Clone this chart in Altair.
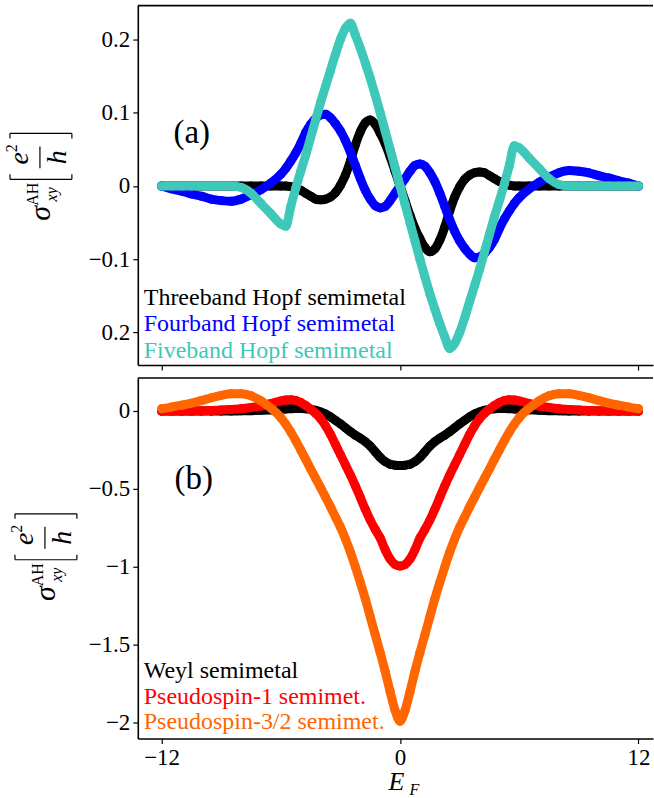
import altair as alt
import pandas as pd

# ---------------- data ----------------
E = [-12, -11.5, -11, -10.5, -10, -9.5, -9, -8.5, -8, -7.5, -7, -6.5,
     -6, -5.75, -5.5, -5.25, -5, -4.75, -4.5, -4.25, -4, -3.75, -3.5, -3.25,
     -3, -2.75, -2.5, -2.25, -2, -1.75, -1.5, -1.25, -1, -0.75, -0.5, -0.25,
     0, 0.25, 0.5, 0.75, 1, 1.25, 1.5, 1.75, 2, 2.25, 2.5, 2.75,
     3, 3.25, 3.5, 3.75, 4, 4.25, 4.5, 4.75, 5, 5.25, 5.5, 5.75, 6,
     6.5, 7, 7.5, 8, 8.5, 9, 9.5, 10, 10.5, 11, 11.5, 12]

threeband = [0, 0, 0, 0, 0, 0, 0, 0, 0, 0, 0, 0,
             0, 0, -0.001, -0.003, -0.006, -0.01, -0.014, -0.018, -0.019, -0.018, -0.015, -0.009,
             0.001, 0.015, 0.034, 0.056, 0.074, 0.086, 0.09, 0.084, 0.072, 0.058, 0.04, 0.02,
             0, -0.02, -0.04, -0.058, -0.072, -0.084, -0.09, -0.086, -0.074, -0.056, -0.034, -0.015,
             -0.001, 0.009, 0.015, 0.018, 0.019, 0.018, 0.014, 0.01, 0.006, 0.003, 0.001, 0, 0,
             0, 0, 0, 0, 0, 0, 0, 0, 0, 0, 0, 0]

fourband = [0, -0.004, -0.007, -0.011, -0.014, -0.018, -0.02, -0.021, -0.018, -0.012, -0.005, 0.004,
            0.016, 0.024, 0.034, 0.045, 0.058, 0.073, 0.084, 0.092, 0.097, 0.098, 0.093, 0.085,
            0.075, 0.062, 0.046, 0.028, 0.01, -0.006, -0.018, -0.027, -0.03, -0.028, -0.02, -0.01,
            0, 0.01, 0.02, 0.028, 0.03, 0.027, 0.018, 0.006, -0.01, -0.028, -0.046, -0.062,
            -0.075, -0.085, -0.093, -0.098, -0.097, -0.092, -0.084, -0.073, -0.058, -0.045, -0.034, -0.024, -0.016,
            -0.004, 0.005, 0.012, 0.018, 0.021, 0.02, 0.018, 0.014, 0.011, 0.007, 0.004, 0]

fiveband = [0, 0, 0, 0, 0, 0, 0, 0, -0.002, -0.01, -0.024, -0.038,
            -0.052, -0.055, -0.028, -0.003, 0.02, 0.042, 0.066, 0.09, 0.114, 0.136, 0.158, 0.18,
            0.2, 0.215, 0.222, 0.206, 0.188, 0.168, 0.147, 0.124, 0.1, 0.075, 0.05, 0.025,
            0, -0.025, -0.05, -0.075, -0.1, -0.124, -0.147, -0.168, -0.188, -0.206, -0.222, -0.215,
            -0.2, -0.18, -0.158, -0.136, -0.114, -0.09, -0.066, -0.042, -0.02, 0.003, 0.028, 0.055, 0.052,
            0.038, 0.024, 0.01, 0.002, 0, 0, 0, 0, 0, 0, 0, 0]

weyl = [0, 0, 0, 0, 0, 0, 0, 0, 0.001, 0.002, 0.004, 0.007,
        0.011, 0.013, 0.015, 0.016, 0.016, 0.014, 0.01, 0.004, -0.006, -0.02, -0.038, -0.06,
        -0.083, -0.108, -0.133, -0.155, -0.175, -0.197, -0.225, -0.262, -0.298, -0.325, -0.342, -0.348,
        -0.35, -0.348, -0.342, -0.325, -0.298, -0.262, -0.225, -0.197, -0.175, -0.155, -0.133, -0.108,
        -0.083, -0.06, -0.038, -0.02, -0.006, 0.004, 0.01, 0.014, 0.016, 0.016, 0.015, 0.013, 0.011,
        0.007, 0.004, 0.002, 0.001, 0, 0, 0, 0, 0, 0, 0, 0]

pseudospin1 = [0, 0, 0, 0, 0.001, 0.003, 0.006, 0.01, 0.014, 0.022, 0.032, 0.048,
               0.064, 0.07, 0.072, 0.067, 0.055, 0.035, 0.012, -0.015, -0.05, -0.095, -0.15, -0.215,
               -0.28, -0.345, -0.41, -0.48, -0.555, -0.63, -0.7, -0.76, -0.815, -0.89, -0.95, -0.985,
               -0.995, -0.985, -0.95, -0.89, -0.815, -0.76, -0.7, -0.63, -0.555, -0.48, -0.41, -0.345,
               -0.28, -0.215, -0.15, -0.095, -0.05, -0.015, 0.012, 0.035, 0.055, 0.067, 0.072, 0.07, 0.064,
               0.048, 0.032, 0.022, 0.014, 0.01, 0.006, 0.003, 0.001, 0, 0, 0, 0]

pseudospin32 = [0.015, 0.025, 0.037, 0.05, 0.067, 0.085, 0.1, 0.11, 0.11, 0.097, 0.065, 0.018,
                -0.042, -0.085, -0.135, -0.19, -0.25, -0.31, -0.372, -0.432, -0.492, -0.553, -0.615, -0.68,
                -0.745, -0.82, -0.905, -1.0, -1.1, -1.205, -1.32, -1.435, -1.55, -1.67, -1.8, -1.92,
                -1.99, -1.92, -1.8, -1.67, -1.55, -1.435, -1.32, -1.205, -1.1, -1.0, -0.905, -0.82,
                -0.745, -0.68, -0.615, -0.553, -0.492, -0.432, -0.372, -0.31, -0.25, -0.19, -0.135, -0.085, -0.042,
                0.018, 0.065, 0.097, 0.11, 0.11, 0.1, 0.085, 0.067, 0.05, 0.037, 0.025, 0.015]

names_a = ["Threeband Hopf semimetal", "Fourband Hopf semimetal", "Fiveband Hopf semimetal"]
names_b = ["Weyl semimetal", "Pseudospin-1 semimet.", "Pseudospin-3/2 semimet."]
colors_a = ["#000000", "#0000ff", "#3ec8b9"]
colors_b = ["#000000", "#ff0000", "#ff6600"]

x_ticks = [-12, 0, 12]
ya_ticks = [-0.2, -0.1, 0, 0.1, 0.2]
yb_ticks = [-2, -1.5, -1, -0.5, 0]

# ---------------- layout / style ----------------
SERIF = "Liberation Serif, Times New Roman, DejaVu Serif, serif"
W, HA, HB = 516, 360, 361
XDOM = [-13.2, 12.73]
YA_DOM = [-0.2445, 0.2462]
YB_DOM = [-2.1005, 0.2113]

dummy = pd.DataFrame({"k": [0]})


def txt(text, x, y, size, style="normal", color="black", align="center", angle=0):
    return alt.Chart(dummy).mark_text(
        text=text, font=SERIF, fontSize=size, fontStyle=style, color=color,
        align=align, baseline="alphabetic", angle=angle
    ).encode(x=alt.value(x), y=alt.value(y))


def rule(x1, y1, x2, y2, w=1.2, color="black"):
    return alt.Chart(dummy).mark_rule(color=color, strokeWidth=w).encode(
        x=alt.value(x1), x2=alt.value(x2), y=alt.value(y1), y2=alt.value(y2))


def ytitle(sx, sy):
    # sigma^{AH}_{xy} [ e^2 / h ], rotated to read bottom -> top
    return [
        txt("σ", sx, sy, 30, "italic", angle=270),
        txt("AH", sx - 12, sy - 19, 16, angle=270),
        txt("xy", sx + 7, sy - 19, 16, "italic", angle=270),
        txt("e", sx - 22, sy - 55, 28, "italic", angle=270),
        txt("2", sx - 33, sy - 65, 16, angle=270),
        rule(sx - 10, sy - 67, sx - 10, sy - 45, 1.2),
        txt("h", sx + 16, sy - 56, 28, "italic", angle=270),
        rule(sx - 40, sy - 34, sx + 22, sy - 34, 1.2),
        rule(sx - 40, sy - 34, sx - 40, sy - 39, 1.2),
        rule(sx + 22, sy - 34, sx + 22, sy - 39, 1.2),
        rule(sx - 40, sy - 80, sx + 22, sy - 80, 1.2),
        rule(sx - 40, sy - 80, sx - 40, sy - 75, 1.2),
        rule(sx + 22, sy - 80, sx + 22, sy - 75, 1.2),
    ]


def series_layers(names, arrays, colors, ydom, xaxis, yaxis):
    layers = []
    for name, vals, col in zip(names, arrays, colors):
        df = pd.DataFrame({"E": E, "sigma": vals, "series": name})
        base = alt.Chart(df).encode(
            x=alt.X("E:Q", scale=alt.Scale(domain=XDOM, nice=False, zero=False), axis=xaxis),
            y=alt.Y("sigma:Q", scale=alt.Scale(domain=ydom, nice=False, zero=False), axis=yaxis),
        )
        layers.append(base.mark_line(color=col, strokeWidth=9, strokeCap="round",
                                     strokeJoin="round", interpolate="monotone"))
        layers.append(base.mark_circle(color=col, size=81, opacity=1))
    return layers


xaxis_a = alt.Axis(values=x_ticks, labels=False, grid=False, title=None)
xaxis_b = alt.Axis(values=x_ticks, grid=False, title=None, labelFlush=False, labelPadding=3,
                   labelExpr="datum.value < 0 ? '−' + format(-datum.value, 'd') : format(datum.value, 'd')")
yaxis_a = alt.Axis(values=ya_ticks, grid=False, title=None, labelFlush=False,
                   labelExpr="datum.value == 0 ? '0' : (datum.value < -0.15 ? '0.2' : (datum.value < 0 ? '−' + format(-datum.value, '.1f') : format(datum.value, '.1f')))")
yaxis_b = alt.Axis(values=yb_ticks, grid=False, title=None, labelFlush=False,
                   labelExpr="datum.value == 0 ? '0' : '−' + format(-datum.value, '~g')")

layers_a = series_layers(names_a, [threeband, fourband, fiveband], colors_a, YA_DOM, xaxis_a, yaxis_a)
layers_a += [rule(0, 0, W, 0, 1.6)]
layers_a += [txt(n, 6, 300 + 26.3 * i, 24, color=c, align="left") for i, (n, c) in enumerate(zip(names_a, colors_a))]
layers_a += [txt("(a)", 54, 138, 33)]
layers_a += ytitle(-88, 208)
layers_a += [rule(-137.75, 0, -137.75, 10, 0.5, "white"), rule(0, -4.75, 10, -4.75, 0.5, "white")]

layers_b = series_layers(names_b, [weyl, pseudospin1, pseudospin32], colors_b, YB_DOM, xaxis_b, yaxis_b)
layers_b += [rule(0, 0, W, 0, 1.6)]
layers_b += [txt(n, 6, 300 + 26 * i, 24, color=c, align="left") for i, (n, c) in enumerate(zip(names_b, colors_b))]
layers_b += [txt("(b)", 56, 111, 33)]
layers_b += ytitle(-83, 216)
layers_b += [txt("E", 259, 413, 26, "italic"), txt("F", 277, 418, 16, "italic")]
layers_b += [rule(-137.75, 0, -137.75, 10, 0.5, "white")]

panel_a = alt.layer(*layers_a).properties(width=W, height=HA)
panel_b = alt.layer(*layers_b).properties(width=W, height=HB)

chart = alt.vconcat(panel_a, panel_b, spacing=6).properties(
    padding={"left": 0, "top": 0, "right": 0, "bottom": 0}
).configure_view(stroke=None).configure_axis(
    labelFont=SERIF, labelFontSize=23, labelColor="black",
    domainColor="black", domainWidth=1.6, tickColor="black", tickWidth=1.2, tickSize=5,
    labelPadding=3,
)

chart.save("out.html", embed_options={"renderer": "svg", "actions": False})
